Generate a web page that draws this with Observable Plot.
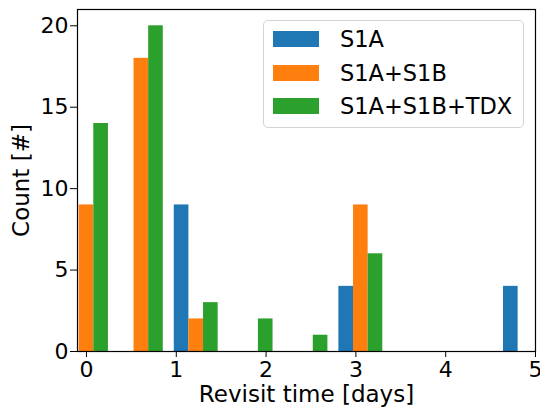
<!DOCTYPE html>
<html>
<head>
<meta charset="utf-8">
<script src="https://cdn.jsdelivr.net/npm/d3@7"></script>
<script src="https://cdn.jsdelivr.net/npm/@observablehq/plot@0.6"></script>
<style>
  html, body { margin: 0; padding: 0; background: #fff; }
  #wrap { position: relative; width: 540px; height: 412px; font-family: "DejaVu Sans", sans-serif; }
  #legend { position: absolute; left: 263px; top: 20px; width: 259px; height: 106px;
    border: 1px solid #d4d4d4; border-radius: 5px; background: rgba(255,255,255,0.8); }
  .sw { width: 46px; height: 16px; }
  .lbl { position: absolute; left: 76px; font-size: 22.5px; line-height: 22px; white-space: nowrap; color: #000; }
  svg [aria-label="x-axis label"] text, svg [aria-label="y-axis label"] text { font-size: 23px; }
</style>
</head>
<body>
<div id="wrap"></div>
<script>
// ---- data ----
const series = ["S1A", "S1A+S1B", "S1A+S1B+TDX"];
const colors = ["#1f77b4", "#ff7f0e", "#2ca02c"];
const binCenters = [0, 0.611, 1.222, 1.833, 2.444, 3.055, 3.666, 4.277, 4.888];
const binWidth = 0.611;
const countS1A = [0, 0, 9, 0, 0, 4, 0, 0, 4];
const countS1AS1B = [9, 18, 2, 0, 0, 9, 0, 0, 0];
const countS1AS1BTDX = [14, 20, 3, 2, 1, 6, 0, 0, 0];
const xTicks = [0, 1, 2, 3, 4, 5];
const yTicks = [0, 5, 10, 15, 20];

// build table
const counts = [countS1A, countS1AS1B, countS1AS1BTDX];
const rows = [];
counts.forEach((arr, s) => arr.forEach((c, i) => {
  rows.push({series: series[s], s, center: binCenters[i], count: c});
}));
const barW = 0.8 * binWidth / 3;

const plot = Plot.plot({
  width: 540,
  height: 412,
  marginLeft: 77,
  marginRight: 5,
  marginTop: 9,
  marginBottom: 61,
  style: {fontFamily: "DejaVu Sans, sans-serif", fontSize: "22px", color: "#000", background: "#fff"},
  x: {domain: [-0.1, 5]},
  y: {domain: [0, 21]},
  color: {domain: series, range: colors},
  marks: [
    Plot.rectY(rows.filter(d => d.count > 0), {
      x1: d => d.center - 0.4 * binWidth + d.s * barW,
      x2: d => d.center - 0.4 * binWidth + (d.s + 1) * barW,
      y1: 0,
      y2: "count",
      fill: "series",
      clip: true
    }),
    Plot.axisX({ticks: xTicks, tickSize: 6, tickPadding: 4, tickFormat: d => String(d),
      label: "Revisit time [days]", labelAnchor: "center", labelArrow: "none", labelOffset: 50}),
    Plot.axisY({ticks: yTicks, tickSize: 7, tickPadding: 2, tickFormat: d => String(d),
      label: "Count [#]", labelAnchor: "center", labelArrow: "none", labelOffset: 65}),
    Plot.frame({stroke: "#000", strokeWidth: 1.2})
  ]
});
const wrap = document.getElementById("wrap");
wrap.appendChild(plot);

// legend
const leg = document.createElement("div");
leg.id = "legend";
const centersY = [18, 51.5, 85];
series.forEach((name, i) => {
  const sw = document.createElement("div");
  sw.className = "sw";
  sw.style.position = "absolute";
  sw.style.left = "9px";
  sw.style.top = (centersY[i] - 8) + "px";
  sw.style.background = colors[i];
  leg.appendChild(sw);
  const t = document.createElement("div");
  t.className = "lbl";
  t.style.top = (centersY[i] - 11) + "px";
  t.textContent = name;
  leg.appendChild(t);
});
wrap.appendChild(leg);
</script>
</body>
</html>
